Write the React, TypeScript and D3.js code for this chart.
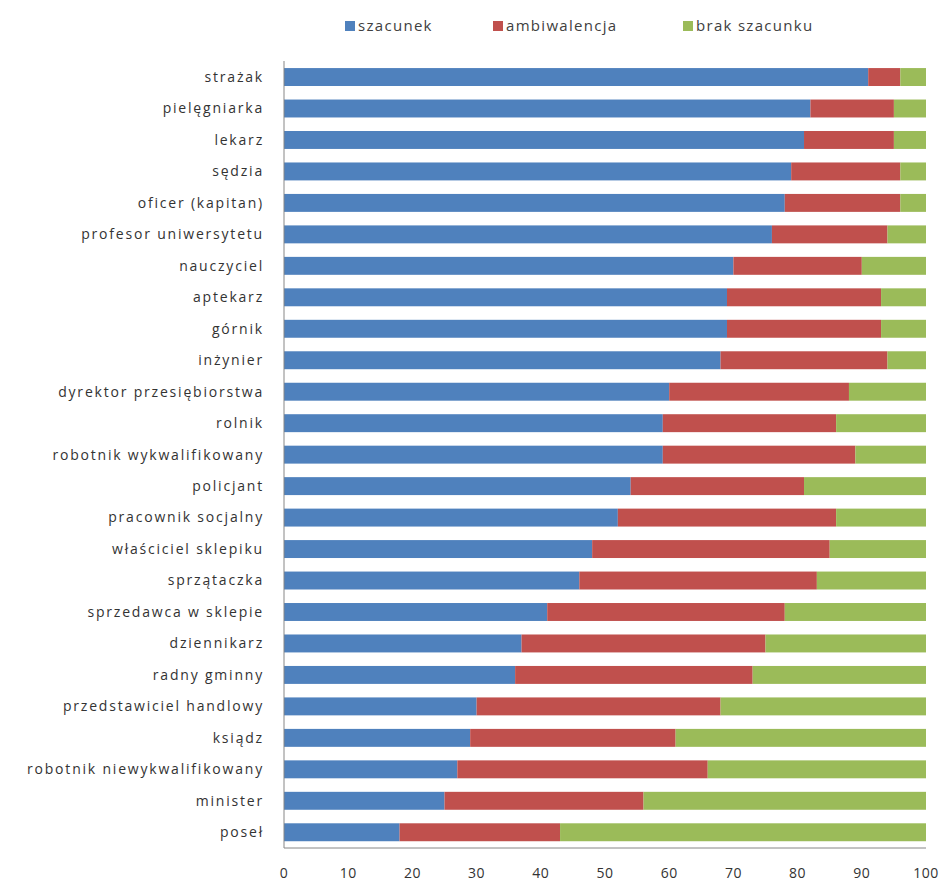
import { useMemo } from "react";
import * as d3 from "d3";

const WIDTH = 946;
const HEIGHT = 882;

const categories = [
  "strażak",
  "pielęgniarka",
  "lekarz",
  "sędzia",
  "oficer (kapitan)",
  "profesor uniwersytetu",
  "nauczyciel",
  "aptekarz",
  "górnik",
  "inżynier",
  "dyrektor przesiębiorstwa",
  "rolnik",
  "robotnik wykwalifikowany",
  "policjant",
  "pracownik socjalny",
  "właściciel sklepiku",
  "sprzątaczka",
  "sprzedawca w sklepie",
  "dziennikarz",
  "radny gminny",
  "przedstawiciel handlowy",
  "ksiądz",
  "robotnik niewykwalifikowany",
  "minister",
  "poseł",
];

const szacunek = [91, 82, 81, 79, 78, 76, 70, 69, 69, 68, 60, 59, 59, 54, 52, 48, 46, 41, 37, 36, 30, 29, 27, 25, 18];
const ambiwalencja = [5, 13, 14, 17, 18, 18, 20, 24, 24, 26, 28, 27, 30, 27, 34, 37, 37, 37, 38, 37, 38, 32, 39, 31, 25];
const brakSzacunku = [4, 5, 5, 4, 4, 6, 10, 7, 7, 6, 12, 14, 11, 19, 14, 15, 17, 22, 25, 27, 32, 39, 34, 44, 57];

const seriesNames = ["szacunek", "ambiwalencja", "brak szacunku"];
const colors = ["#4F81BD", "#C0504D", "#9BBB59"];
const ticks = [0, 10, 20, 30, 40, 50, 60, 70, 80, 90, 100];

const FONT = "'Open Sans', sans-serif";

export default function App() {
  const rows = useMemo(
    () =>
      categories.map((c, i) => ({
        name: c,
        szacunek: szacunek[i],
        ambiwalencja: ambiwalencja[i],
        "brak szacunku": brakSzacunku[i],
      })),
    []
  );

  const stacked = useMemo(() => d3.stack<any>().keys(seriesNames)(rows), [rows]);

  const x = d3.scaleLinear().domain([0, 100]).range([284, 926]);
  const y = d3
    .scaleBand<string>()
    .domain(categories)
    .range([61.3, 848])
    .paddingInner(0.43)
    .paddingOuter(0.215);

  const legendX = [345, 493, 683];

  return (
    <svg
      width={WIDTH}
      height={HEIGHT}
      style={{ position: "absolute", left: 0, top: 0, background: "#fff" }}
    >
      {/* legend */}
      {seriesNames.map((s, i) => (
        <g key={s} transform={`translate(${legendX[i]}, 26)`}>
          <rect x={0} y={-5} width={10} height={10} fill={colors[i]} />
          <text
            x={13}
            dy="0.35em"
            fontFamily={FONT}
            fontSize={15}
            letterSpacing={1.3}
            fill="#404040"
          >
            {s}
          </text>
        </g>
      ))}

      {/* bars */}
      {stacked.map((layer, si) => (
        <g key={layer.key} fill={colors[si]}>
          {layer.map((d: any) => (
            <rect
              key={d.data.name}
              x={x(d[0])}
              y={y(d.data.name)}
              width={x(d[1]) - x(d[0])}
              height={y.bandwidth()}
            />
          ))}
        </g>
      ))}

      {/* axes */}
      <line x1={x(0)} x2={x(0)} y1={61} y2={848} stroke="#868686" strokeWidth={1} />
      <line x1={x(0)} x2={x(100)} y1={848} y2={848} stroke="#868686" strokeWidth={1} />

      {categories.map((c) => (
        <text
          key={c}
          x={264}
          y={(y(c) ?? 0) + y.bandwidth() / 2}
          dy="0.35em"
          textAnchor="end"
          fontFamily={FONT}
          fontSize={14}
          letterSpacing={1.8}
          fill="#333"
        >
          {c}
        </text>
      ))}

      {ticks.map((t) => (
        <text
          key={t}
          x={x(t)}
          y={873}
          dy="0.35em"
          textAnchor="middle"
          fontFamily={FONT}
          fontSize={14}
          letterSpacing={0.5}
          fill="#333"
        >
          {t}
        </text>
      ))}
    </svg>
  );
}
